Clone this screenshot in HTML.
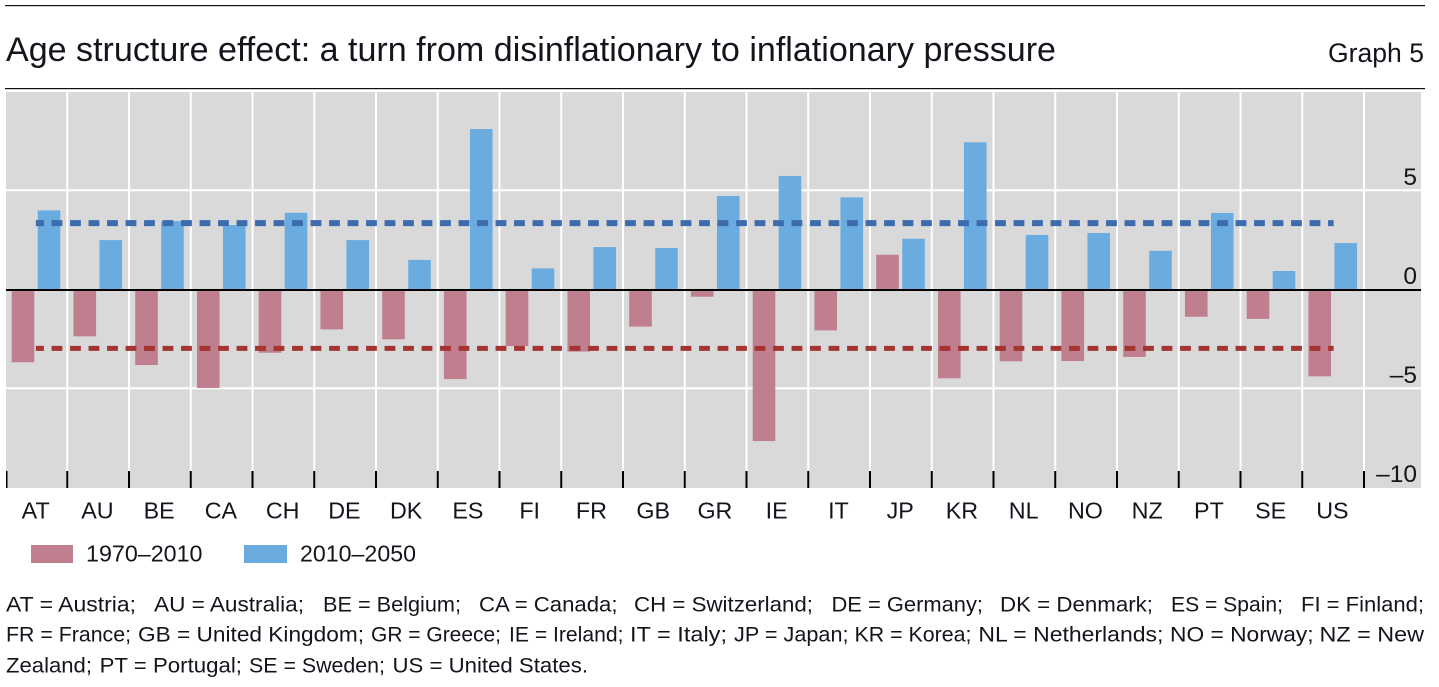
<!DOCTYPE html>
<html lang="en">
<head>
<meta charset="utf-8">
<title>Age structure effect</title>
<style>
html,body{margin:0;padding:0;background:#fff;width:1439px;height:687px;overflow:hidden}
svg{display:block}
text{font-family:"Liberation Sans",sans-serif;fill:#14141c}
.fn{font-size:21px}
.tick{font-size:24.5px}
.cat{font-size:23.3px}
.leg{font-size:23.5px}
</style>
</head>
<body>
<svg id="chart" width="1439" height="687" viewBox="0 0 1439 687" xmlns="http://www.w3.org/2000/svg">
  <rect x="5" y="5" width="1420" height="1.2" fill="#111"/>
  <text x="6" y="61" font-size="34" textLength="1050" lengthAdjust="spacingAndGlyphs">Age structure effect: a turn from disinflationary to inflationary pressure</text>
  <text x="1328" y="62" font-size="26.5" textLength="96" lengthAdjust="spacingAndGlyphs">Graph 5</text>
  <rect x="5" y="88" width="1420" height="1.2" fill="#111"/>
  <rect x="6" y="92" width="1415" height="396" fill="#d9d9d9"/>
  <g id="grid"></g>
  <g id="bars"></g>
  <g id="means"></g>
  <g id="axes"></g>

  <g>
    <rect x="31" y="545" width="42" height="18" fill="#c07f8f"/>
    <text class="leg" x="86" y="561.7" textLength="116.5" lengthAdjust="spacingAndGlyphs">1970–2010</text>
    <rect x="244" y="545" width="43" height="18" fill="#6aace0"/>
    <text class="leg" x="300" y="561.7" textLength="116" lengthAdjust="spacingAndGlyphs">2010–2050</text>
  </g>

  <g>
    <g>
      <text class="fn" x="6" y="611.5" textLength="130" lengthAdjust="spacingAndGlyphs">AT = Austria;</text>
      <text class="fn" x="154" y="611.5" textLength="150" lengthAdjust="spacingAndGlyphs">AU = Australia;</text>
      <text class="fn" x="323" y="611.5" textLength="138" lengthAdjust="spacingAndGlyphs">BE = Belgium;</text>
      <text class="fn" x="479" y="611.5" textLength="138.5" lengthAdjust="spacingAndGlyphs">CA = Canada;</text>
      <text class="fn" x="634" y="611.5" textLength="179" lengthAdjust="spacingAndGlyphs">CH = Switzerland;</text>
      <text class="fn" x="831.5" y="611.5" textLength="151.5" lengthAdjust="spacingAndGlyphs">DE = Germany;</text>
      <text class="fn" x="1000" y="611.5" textLength="153" lengthAdjust="spacingAndGlyphs">DK = Denmark;</text>
      <text class="fn" x="1171" y="611.5" textLength="112" lengthAdjust="spacingAndGlyphs">ES = Spain;</text>
      <text class="fn" x="1301" y="611.5" textLength="123" lengthAdjust="spacingAndGlyphs">FI = Finland;</text>
    </g>
    <g>
      <text class="fn" x="6" y="641.7" textLength="125" lengthAdjust="spacingAndGlyphs">FR = France;</text>
      <text class="fn" x="138" y="641.7" textLength="226" lengthAdjust="spacingAndGlyphs">GB = United Kingdom;</text>
      <text class="fn" x="371" y="641.7" textLength="130" lengthAdjust="spacingAndGlyphs">GR = Greece;</text>
      <text class="fn" x="509" y="641.7" textLength="114.5" lengthAdjust="spacingAndGlyphs">IE = Ireland;</text>
      <text class="fn" x="630" y="641.7" textLength="97" lengthAdjust="spacingAndGlyphs">IT = Italy;</text>
      <text class="fn" x="734" y="641.7" textLength="114.5" lengthAdjust="spacingAndGlyphs">JP = Japan;</text>
      <text class="fn" x="854.5" y="641.7" textLength="117" lengthAdjust="spacingAndGlyphs">KR = Korea;</text>
      <text class="fn" x="978.4" y="641.7" textLength="185" lengthAdjust="spacingAndGlyphs">NL = Netherlands;</text>
      <text class="fn" x="1170" y="641.7" textLength="143.6" lengthAdjust="spacingAndGlyphs">NO = Norway;</text>
      <text class="fn" x="1319.5" y="641.7" textLength="104.5" lengthAdjust="spacingAndGlyphs">NZ = New</text>
    </g>
    <g>
      <text class="fn" x="6" y="672.5" textLength="86" lengthAdjust="spacingAndGlyphs">Zealand;</text>
      <text class="fn" x="99.6" y="672.5" textLength="142.4" lengthAdjust="spacingAndGlyphs">PT = Portugal;</text>
      <text class="fn" x="249" y="672.5" textLength="136" lengthAdjust="spacingAndGlyphs">SE = Sweden;</text>
      <text class="fn" x="392.5" y="672.5" textLength="195.5" lengthAdjust="spacingAndGlyphs">US = United States.</text>
    </g>
  </g>
</svg>
<script>
const categories = ["AT","AU","BE","CA","CH","DE","DK","ES","FI","FR","GB","GR","IE","IT","JP","KR","NL","NO","NZ","PT","SE","US"];
const series1970 = [-3.65,-2.34,-3.79,-4.95,-3.17,-1.99,-2.49,-4.5,-2.83,-3.11,-1.85,-0.34,-7.63,-2.04,1.78,-4.46,-3.6,-3.59,-3.38,-1.35,-1.46,-4.36];
const series2010 = [4.02,2.52,3.48,3.28,3.9,2.52,1.52,8.13,1.09,2.17,2.12,4.75,5.76,4.68,2.59,7.46,2.78,2.88,1.98,3.89,0.96,2.37];
const mean1970 = -2.95;
const mean2010 = 3.38;
const yTicks = [5,0,-5,-10];
const gridValues = [5,-5];

const NS = 'http://www.w3.org/2000/svg';
const plotLeft = 6, plotRight = 1421, bandWidth = 61.75;
const yTop = 92, yBottom = 488, yMax = 10, yMin = -10;

function xBand(i){ return plotLeft + i * bandWidth; }
function xCenter(i){ return xBand(i) + bandWidth / 2; }
function y(v){ return yTop + (yMax - v) * (yBottom - yTop) / (yMax - yMin); }
function make(tag, attrs, parent){
  const el = document.createElementNS(NS, tag);
  for (const k in attrs) el.setAttribute(k, attrs[k]);
  parent.appendChild(el);
  return el;
}

const grid = document.getElementById('grid');
const bars = document.getElementById('bars');
const means = document.getElementById('means');
const axes = document.getElementById('axes');

gridValues.forEach(function(v){
  const el = make('rect', {x: plotLeft, y: y(v) - 1.7, width: plotRight - plotLeft, height: 2, fill: '#fff'}, grid);
  
  
});
for (let i = 1; i <= categories.length; i++) {
  const el = make('rect', {x: xBand(i) - 1.5, y: yTop, width: 2, height: yBottom - yTop, fill: '#fff'}, grid);
  
  
}

function barRect(v, i, offset, fill){
  const top = Math.min(y(v), y(0));
  const h = Math.abs(y(v) - y(0));
  return make('rect', {x: xBand(i) + offset, y: top, width: 22.6, height: h, fill: fill}, bars);
}
categories.forEach(function(c, i){
  const a = barRect(series1970[i], i, 5.7, '#c07f8f');
  
  
  const b = barRect(series2010[i], i, 31.7, '#6aace0');
  
  
});

const lineStart = xCenter(0) - 1;
const lineEnd = xCenter(categories.length - 1);
const blueMean = make('line', {x1: lineStart, x2: lineEnd, y1: y(mean2010), y2: y(mean2010), stroke: '#3c6bae', 'stroke-width': 6, 'stroke-dasharray': '10.8 7.7', 'stroke-dashoffset': 2.8}, means);


const redMean = make('line', {x1: lineStart, x2: lineEnd, y1: y(mean1970), y2: y(mean1970), stroke: '#a5332f', 'stroke-width': 5, 'stroke-dasharray': '10.8 7.7', 'stroke-dashoffset': 2.8}, means);



const zero = make('rect', {x: plotLeft, y: y(0) - 1, width: plotRight - plotLeft, height: 2, fill: '#000'}, axes);



for (let i = 0; i <= categories.length; i++) {
  const t = make('rect', {x: i === 0 ? xBand(i) : xBand(i) - 1.5, y: 471, width: i === 0 ? 1.5 : 2, height: yBottom - 471, fill: '#000'}, axes);
  
  
}
categories.forEach(function(c, i){
  const t = make('text', {x: xCenter(i) - 1.2, y: 518.3, 'text-anchor': 'middle', 'class': 'cat'}, axes);
  t.textContent = c;
  
  
});
yTicks.forEach(function(v){
  const t = make('text', {x: 1417, y: y(v) - 6, 'text-anchor': 'end', 'class': 'tick'}, axes);
  t.textContent = v < 0 ? '–' + Math.abs(v) : String(v);
  
  
});
</script>
</body>
</html>
